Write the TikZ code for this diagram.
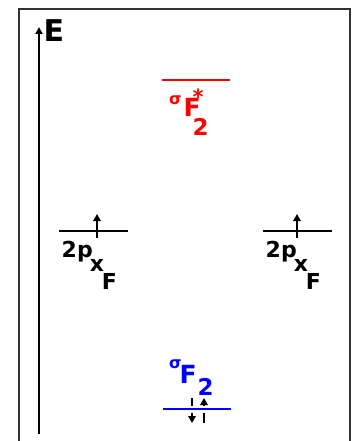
\documentclass[tikz,border=0pt]{standalone}
\usepackage{fontspec}
\setmainfont{DejaVu Sans}
\usetikzlibrary{arrows.meta}
\newcommand{\pxlabel}{\fontsize{22}{22}\selectfont 2p\kern-3pt\raisebox{-14pt}{x\kern-2pt\raisebox{-18pt}{F}}}
\begin{document}
\begin{tikzpicture}[x=1pt,y=-1pt,
  frameline/.style={line width=1.5pt,draw=black!80},
  axisline/.style={line width=1.8pt,-{Triangle[width=7pt,length=7pt]}},
  level/.style={line width=1.7pt},
  spin/.style={line width=1.8pt,-{Triangle[width=7.5pt,length=7pt]}},
  lbl/.style={inner sep=0pt,anchor=base west,font=\bfseries}]
\useasboundingbox (0,0) rectangle (355,441);
% frame (open at bottom)
\coordinate (fbl) at (19,445);
\coordinate (ftl) at (19,9);
\coordinate (ftr) at (350,9);
\coordinate (fbr) at (350,445);
\draw[frameline] (fbl) -- (ftl) -- (ftr) -- (fbr);
% energy axis
\coordinate (ax0) at (39,434);
\coordinate (ax1) at (39,27);
\draw[axisline] (ax0) -- (ax1);
\node[lbl] (E) at (43.5,42) {\fontsize{30}{30}\selectfont E};
% antibonding level
\coordinate (r0) at (162,80);
\coordinate (r1) at (230,80);
\draw[level,red] (r0) -- (r1);
\node[lbl,text=red] (sstar) at (169,117) {\fontsize{16}{16}\selectfont\raisebox{12pt}{σ}\kern2pt\fontsize{25}{25}\selectfont F\kern-8pt\rlap{\fontsize{21}{21}\selectfont\raisebox{13pt}{*}}\fontsize{23}{23}\selectfont\raisebox{-18pt}{2}};
% left 2p level
\coordinate (l0) at (59,231);
\coordinate (l1) at (128,231);
\draw[level] (l0) -- (l1);
\coordinate (la0) at (97,238);
\coordinate (la1) at (97,214);
\draw[spin] (la0) -- (la1);
\node[lbl] (pl) at (61.5,257) {\pxlabel};
% right 2p level
\coordinate (rr0) at (263,231);
\coordinate (rr1) at (332,231);
\draw[level] (rr0) -- (rr1);
\coordinate (ra0) at (297,238);
\coordinate (ra1) at (297,214);
\draw[spin] (ra0) -- (ra1);
\node[lbl] (pr) at (265.5,257) {\pxlabel};
% bonding level
\coordinate (b0) at (163,409);
\coordinate (b1) at (231,409);
\coordinate (d0) at (192,398);
\coordinate (d1) at (192,423);
\coordinate (u0) at (204,423);
\coordinate (u1) at (204,398);
\draw[spin] (d0) -- (d1);
\draw[spin] (u0) -- (u1);
\draw[line width=7pt,white] (b0) -- (b1);
\draw[level,blue] (b0) -- (b1);
\node[lbl,text=blue] (sb) at (169,383) {\fontsize{16}{16}\selectfont\raisebox{15pt}{σ}\kern-2pt\fontsize{25}{25}\selectfont F\kern1pt\fontsize{23}{23}\selectfont\raisebox{-12pt}{2}};
\end{tikzpicture}
\end{document}
